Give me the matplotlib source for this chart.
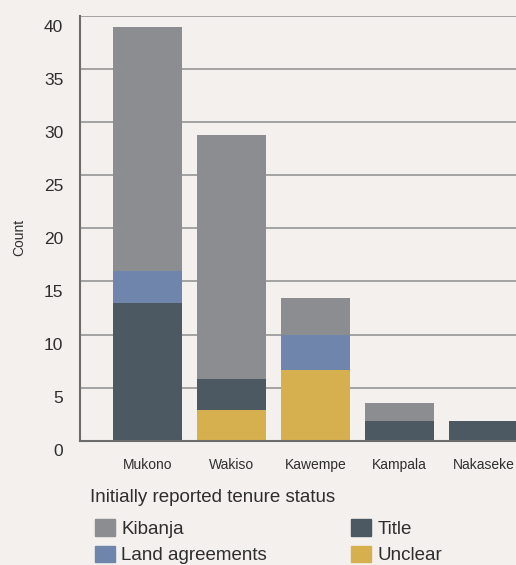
import matplotlib.pyplot as plt
from matplotlib.patches import Patch
import matplotlib.transforms as mtransforms
import numpy as np

districts = ["Mukono", "Wakiso", "Kawempe", "Kampala", "Nakaseke"]
# stacked from the bottom: unclear, title, land agreements, kibanja
unclear = [0, 2.9, 6.65, 0, 0]
title = [13.0, 2.9, 0, 1.85, 1.85]
land_agreements = [2.95, 0, 3.3, 0, 0]
kibanja = [23.0, 22.95, 3.45, 1.7, 0]
y_ticks = [0, 5, 10, 15, 20, 25, 30, 35, 40]

col_kibanja = "#8c8d90"
col_land = "#7085ab"
col_title = "#4c5862"
col_unclear = "#d6b04e"
bg = "#f3f0ee"
txt = "#2e2e2e"

plt.rcParams['font.family'] = ['Liberation Sans', 'DejaVu Sans']

W, H = 516, 565
fig = plt.figure(figsize=(W / 100, H / 100), dpi=100, facecolor=bg)
ax = fig.add_axes([80 / W, 1 - 440.7 / H, 1 - 80 / W, (440.7 - 16) / H])
ax.set_facecolor(bg)

x = np.arange(len(districts))
w = 0.82
b = np.zeros(len(districts))
for vals, c in [(unclear, col_unclear), (title, col_title),
                (land_agreements, col_land), (kibanja, col_kibanja)]:
    ax.bar(x, vals, w, bottom=b, color=c, linewidth=0, zorder=2)
    b += np.array(vals)

ax.set_xlim(-67.5 / 84, (516 - 147.5) / 84)
ax.set_ylim(0, 40)
ax.set_yticks(y_ticks)
ax.set_xticks(x)
ax.set_xticklabels(districts)
ax.grid(axis="y", color="#8e8e8e", linewidth=1.1, zorder=1)
ax.set_axisbelow(True)
for s in ["top", "right"]:
    ax.spines[s].set_visible(False)
for s in ["left", "bottom"]:
    ax.spines[s].set_color("#6c6c6c")
    ax.spines[s].set_linewidth(1.5)
    ax.spines[s].set_zorder(3)

ax.tick_params(axis="y", length=0, pad=12, labelsize=12.5, labelcolor=txt)
ax.tick_params(axis="x", length=0, pad=12.5, labelsize=10, labelcolor=txt)
# y labels sit just below their gridlines in the original
shift = mtransforms.ScaledTranslation(0, -3.5 / 100, fig.dpi_scale_trans)
for lab in ax.get_yticklabels():
    lab.set_va("top")
    lab.set_transform(lab.get_transform() + shift)

fig.text(19 / W, 1 - 237.5 / H, "Count", rotation=90, ha="center", va="center",
         fontsize=10, color=txt)

fig.text(90 / W, 1 - 497 / H, "Initially reported tenure status", ha="left",
         va="center", fontsize=13.5, color=txt)

handles = [Patch(color=col_kibanja, label="Kibanja"),
           Patch(color=col_land, label="Land agreements"),
           Patch(color=col_title, label="Title"),
           Patch(color=col_unclear, label="Unclear")]
fig.legend(handles=handles, loc="upper left", bbox_to_anchor=(95 / W, 1 - 519 / H),
           ncol=2, frameon=False, fontsize=13.5, handlelength=1.07,
           handleheight=1.0, handletextpad=0.32, labelspacing=0.42,
           columnspacing=4.5, borderpad=0, borderaxespad=0, labelcolor=txt)

fig.savefig("out.png", dpi=100, facecolor=bg)
